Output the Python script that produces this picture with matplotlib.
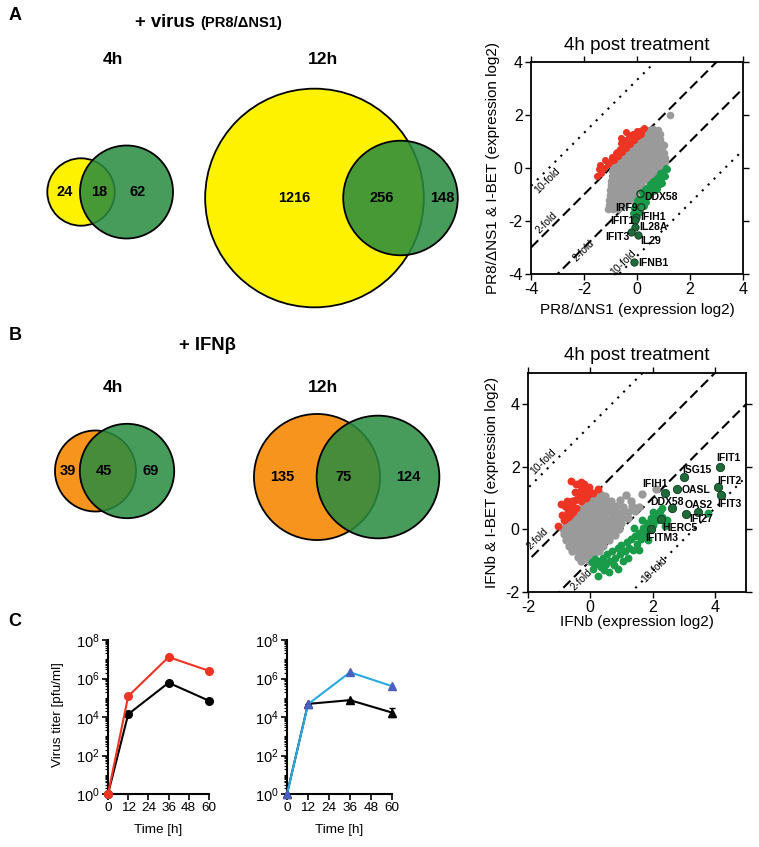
import numpy as np
import matplotlib
matplotlib.use('Agg')
import matplotlib.pyplot as plt
from matplotlib.patches import Circle
from matplotlib.ticker import FixedLocator, LogLocator, FuncFormatter, NullFormatter

plt.rcParams['font.family'] = ['Liberation Sans', 'DejaVu Sans']
plt.rcParams['axes.unicode_minus'] = False
plt.rcParams['mathtext.fontset'] = 'custom'
plt.rcParams['mathtext.rm'] = 'Liberation Sans'
plt.rcParams['mathtext.it'] = 'Liberation Sans:italic'
plt.rcParams['mathtext.bf'] = 'Liberation Sans:bold'

# ---------------- data ----------------
venn_a4 = [24, 18, 62]
venn_a12 = [1216, 256, 148]
venn_b4 = [39, 45, 69]
venn_b12 = [135, 75, 124]

# scatter 1 : PR8/dNS1 vs PR8/dNS1 & I-BET
gray1 = [
    (0.45, 1.45), (0.62, 1.47), (0.80, 1.43), (1.25, 2.00),
    (0.30, 1.28), (0.48, 1.30), (0.66, 1.26), (0.85, 1.30),
    (0.13, 1.10), (0.30, 1.12), (0.50, 1.08), (0.68, 1.11), (0.88, 1.10),
    (-0.05, 0.92), (0.13, 0.94), (0.32, 0.90), (0.52, 0.93), (0.70, 0.91), (0.90, 0.94), (1.02, 0.88),
    (-0.22, 0.75), (-0.03, 0.73), (0.16, 0.76), (0.35, 0.74), (0.55, 0.77), (0.74, 0.73), (0.93, 0.76),
    (-0.38, 0.58), (-0.20, 0.60), (0.00, 0.57), (0.20, 0.59), (0.40, 0.56), (0.60, 0.60), (0.80, 0.58), (1.00, 0.57),
    (-0.55, 0.40), (-0.36, 0.42), (-0.16, 0.39), (0.04, 0.41), (0.24, 0.38), (0.44, 0.42), (0.64, 0.40), (0.84, 0.41), (1.04, 0.39),
    (-0.73, 0.22), (-0.53, 0.24), (-0.33, 0.21), (-0.13, 0.23), (0.07, 0.20), (0.27, 0.24), (0.47, 0.22), (0.67, 0.20), (0.87, 0.23), (1.05, 0.21),
    (-0.90, 0.05), (-0.70, 0.07), (-0.50, 0.04), (-0.30, 0.06), (-0.10, 0.03), (0.10, 0.07), (0.30, 0.05), (0.50, 0.04), (0.70, 0.06), (0.90, 0.03),
    (-0.93, -0.12), (-0.73, -0.10), (-0.53, -0.13), (-0.33, -0.11), (-0.13, -0.12), (0.07, -0.10), (0.27, -0.13), (0.47, -0.11), (0.70, -0.12),
    (-0.95, -0.30), (-0.75, -0.28), (-0.55, -0.31), (-0.35, -0.29), (-0.15, -0.30), (0.05, -0.32), (0.25, -0.28), (0.48, -0.30), (0.66, -0.31),
    (-0.98, -0.48), (-0.78, -0.46), (-0.58, -0.49), (-0.38, -0.47), (-0.18, -0.48), (0.02, -0.50), (0.24, -0.47), (0.44, -0.49),
    (-1.00, -0.66), (-0.80, -0.64), (-0.60, -0.67), (-0.40, -0.65), (-0.20, -0.66), (0.02, -0.68), (0.24, -0.70),
    (-1.02, -0.84), (-0.82, -0.82), (-0.62, -0.85), (-0.42, -0.83), (-0.22, -0.84), (-0.02, -0.86),
    (-1.03, -1.02), (-0.83, -1.00), (-0.63, -1.03), (-0.43, -1.01), (-0.23, -1.02), (-0.06, -1.04),
    (-1.05, -1.20), (-0.85, -1.18), (-0.65, -1.21), (-0.45, -1.19), (-0.27, -1.22),
    (-1.05, -1.38), (-0.85, -1.36), (-0.62, -1.39), (-0.45, -1.40),
    (-1.08, -1.55), (-0.90, -1.56), (-0.70, -1.53),
]
red1 = [
    (-1.50, -0.30), (-1.45, -0.05), (-1.35, -0.20), (-1.25, 0.00), (-1.40, 0.10),
    (-1.10, 0.15), (-1.20, 0.30), (-1.00, 0.25), (-0.95, 0.40), (-0.85, 0.30),
    (-0.80, 0.55), (-0.70, 0.45), (-0.75, 0.60), (-0.65, 0.70), (-0.55, 0.60),
    (-0.50, 0.80), (-0.40, 0.75), (-0.60, 0.95), (-0.45, 1.05), (-0.35, 0.95),
    (-0.25, 0.90), (-0.20, 1.10), (-0.10, 1.05), (-0.30, 1.25), (-0.15, 1.30),
    (-0.05, 1.25), (0.05, 1.20), (0.00, 1.40), (0.10, 1.40), (0.20, 1.45),
    (0.25, 1.50), (-0.60, 1.15), (-0.40, 1.35), (0.15, 1.30),
]
green1 = [
    (1.10, 0.00), (1.15, -0.05), (1.00, -0.10), (0.95, -0.25), (0.85, -0.20),
    (0.90, -0.45), (0.80, -0.35), (0.75, -0.55), (0.70, -0.40), (0.65, -0.65),
    (0.60, -0.50), (0.55, -0.75), (0.50, -0.60), (0.45, -0.85), (0.40, -0.70),
    (0.35, -0.95), (0.30, -0.80), (0.25, -1.05), (0.20, -0.90), (0.15, -1.15),
    (0.10, -1.30), (0.00, -1.20), (-0.05, -1.35), (0.05, -1.50), (0.30, -1.20),
    (0.40, -1.05), (0.50, -0.95), (0.60, -0.85), (0.75, -0.80), (0.85, -0.60),
    (-0.10, -1.50), (-0.15, -1.70), (0.10, -1.65), (0.25, -1.45), (0.20, -1.30),
    (0.95, -0.55), (1.05, -0.30), (0.35, -1.30), (0.00, -1.75),
]
genes1 = ['IFIH1', 'IFIT1', 'IL28A', 'IFIT3', 'IL29', 'IFNB1']
genes1_x = [-0.02, -0.08, -0.09, -0.24, 0.05, -0.13]
genes1_y = [-1.85, -1.95, -2.23, -2.40, -2.52, -3.55]
open1 = ['DDX58', 'IRF9']
open1_x = [0.13, 0.16]
open1_y = [-0.98, -1.48]

# scatter 2 : IFNb vs IFNb & I-BET
gray2 = [
    (0.12, 1.10), (0.30, 1.12), (0.48, 1.08), (1.15, 1.10), (1.65, 1.12), (2.10, 1.30),
    (-0.06, 0.92), (0.12, 0.94), (0.30, 0.90), (0.48, 0.93), (0.66, 0.91), (0.95, 0.94), (1.30, 0.90),
    (-0.24, 0.74), (-0.06, 0.76), (0.12, 0.73), (0.30, 0.75), (0.48, 0.72), (0.66, 0.76), (0.84, 0.74), (1.05, 0.73), (1.35, 0.76), (1.55, 0.72),
    (-0.42, 0.56), (-0.24, 0.58), (-0.06, 0.55), (0.12, 0.57), (0.30, 0.54), (0.48, 0.58), (0.66, 0.56), (0.84, 0.55), (1.02, 0.57), (1.22, 0.55), (1.45, 0.58),
    (-0.60, 0.38), (-0.42, 0.40), (-0.24, 0.37), (-0.06, 0.39), (0.12, 0.36), (0.30, 0.40), (0.48, 0.38), (0.66, 0.37), (0.84, 0.39), (1.02, 0.36), (1.20, 0.38),
    (-0.78, 0.20), (-0.60, 0.22), (-0.42, 0.19), (-0.24, 0.21), (-0.06, 0.18), (0.12, 0.22), (0.30, 0.20), (0.48, 0.19), (0.66, 0.21), (0.84, 0.18), (1.00, 0.20),
    (-0.88, 0.02), (-0.70, 0.04), (-0.52, 0.01), (-0.34, 0.03), (-0.16, 0.00), (0.02, 0.04), (0.20, 0.02), (0.38, 0.01), (0.56, 0.03), (0.74, 0.00), (0.92, 0.02),
    (-0.85, -0.16), (-0.67, -0.14), (-0.49, -0.17), (-0.31, -0.15), (-0.13, -0.18), (0.05, -0.14), (0.23, -0.16), (0.41, -0.17), (0.60, -0.15), (0.78, -0.17),
    (-0.78, -0.34), (-0.60, -0.32), (-0.42, -0.35), (-0.24, -0.33), (-0.06, -0.36), (0.12, -0.32), (0.30, -0.34), (0.48, -0.35), (0.60, -0.33),
    (-0.68, -0.52), (-0.50, -0.50), (-0.32, -0.53), (-0.14, -0.51), (0.04, -0.54), (0.22, -0.50), (0.42, -0.53),
    (-0.58, -0.70), (-0.40, -0.68), (-0.22, -0.71), (-0.04, -0.69), (0.14, -0.72), (0.28, -0.70),
    (-0.40, -0.88), (-0.22, -0.86), (-0.04, -0.89), (0.10, -0.87),
    (-0.30, -1.00), (-0.05, -1.02),
]
red2 = [
    (-1.05, 0.10), (-0.95, 0.80), (-0.80, 0.75), (-0.70, 0.60), (-0.60, 0.90),
    (-0.50, 1.20), (-0.45, 1.45), (-0.30, 1.40), (-0.20, 1.30), (-0.10, 1.20),
    (0.00, 1.15), (-0.40, 1.00), (-0.30, 0.90), (-0.55, 0.55), (-0.70, 0.40),
    (-0.85, 0.30), (-0.15, 1.00), (-0.25, 1.10), (-0.60, 0.75), (-0.45, 0.70),
    (-0.90, 0.45), (0.10, 1.15), (-0.65, 0.45), (-0.75, 0.90), (-0.20, 1.45),
    (-0.61, 1.56), (-0.29, 1.52), (0.24, 1.29), (-0.82, 0.32), (-0.35, 1.20),
    (-0.50, 0.95), (-0.05, 1.35),
]
green2 = [
    (0.05, -1.05), (0.10, -1.25), (0.20, -1.10), (0.25, -1.50), (0.30, -1.00),
    (0.35, -1.20), (0.42, -0.90), (0.50, -1.10), (0.55, -0.80), (0.62, -1.00),
    (0.70, -0.70), (0.75, -1.15), (0.80, -0.90), (0.88, -0.60), (0.95, -0.80),
    (1.00, -0.50), (1.05, -1.00), (1.12, -0.70), (1.18, -0.40), (1.25, -0.60),
    (1.32, -0.30), (1.38, -0.65), (1.45, -0.20), (1.50, -0.45), (1.55, -0.10),
    (1.62, -0.30), (1.70, 0.05), (1.75, -0.15), (1.82, 0.20), (1.90, 0.00),
    (1.95, 0.35), (2.02, 0.15), (2.10, 0.50), (2.15, 0.30), (2.25, 0.60),
    (2.30, 0.40), (2.00, 0.55), (1.65, 0.30), (1.85, -0.35), (0.90, -1.25),
    (0.60, -1.35), (2.45, 0.30), (3.77, 0.52), (2.29, 0.70), (1.40, 0.05),
    (0.15, -0.95), (0.45, -1.30), (1.20, -0.90), (1.55, -0.65), (2.40, 0.10),
]
genes2 = ['IFIT1', 'ISG15', 'IFIT2', 'OASL', 'IFIH1', 'IFIT3', 'DDX58', 'OAS2', 'IFI27', 'HERC5', 'IFITM3']
genes2_x = [4.15, 3.01, 4.10, 2.80, 2.39, 4.21, 2.63, 3.46, 3.06, 2.28, 1.96]
genes2_y = [2.01, 1.67, 1.35, 1.29, 1.18, 1.10, 0.67, 0.56, 0.48, 0.32, 0.02]

# panel C : virus titer
time_h = [0, 12, 36, 60]
titer1_ctrl = [1, 1.4e4, 6.0e5, 7.0e4]
titer1_ctrl_err = [[0, 4e3, 0, 0], [0, 3e3, 0, 0]]
titer1_red = [1, 1.2e5, 1.3e7, 2.5e6]
titer2_ctrl = [1, 4.8e4, 7.5e4, 1.7e4]
titer2_ctrl_err = [[0, 0, 0, 7e3], [0, 0, 0, 1.1e4]]
titer2_blue = [1, 4.6e4, 2.1e6, 4.0e5]

# ---------------- figure ----------------
W, H = 759, 847
fig = plt.figure(figsize=(W / 100, H / 100), dpi=100)

def fax(l, t, r, b):
    return fig.add_axes([l / W, 1 - b / H, (r - l) / W, (b - t) / H])

# full-figure pixel axes for Venn diagrams and panel texts
ax0 = fig.add_axes([0, 0, 1, 1])
ax0.set_xlim(0, W)
ax0.set_ylim(H, 0)
ax0.axis('off')

YELLOW = '#FFF200'
ORANGE = '#F7941D'
GREEN_V = (41 / 255, 139 / 255, 64 / 255, 0.86)

venn_layout = [
    (venn_a4, YELLOW, 81, 192, 45.5, 5.2, (65, 99, 138)),
    (venn_a12, YELLOW, 314.5, 198, 86, 2.85, (294, 382, 442)),
    (venn_b4, ORANGE, 95.5, 471, 31.5, 4.42, (68, 104, 151)),
    (venn_b12, ORANGE, 317, 477, 61, 4.35, (282, 344, 408)),
]
for counts, col, cx, cy, d, k, lx in venn_layout:
    r1 = k * np.sqrt(counts[0] + counts[1])
    r2 = k * np.sqrt(counts[1] + counts[2])
    ax0.add_patch(Circle((cx, cy), r1, facecolor=col, edgecolor='black', lw=1.3, zorder=1))
    ax0.add_patch(Circle((cx + d, cy), r2, facecolor=GREEN_V, edgecolor='black', lw=1.3, zorder=2))
    for n, x in zip(counts, lx):
        ax0.text(x, cy, str(n), ha='center', va='center', fontsize=10.5,
                 fontweight='bold', zorder=3)

for letter, y in [('A', 16), ('B', 336), ('C', 621)]:
    ax0.text(15, y, letter, ha='center', va='center', fontsize=13, fontweight='bold')
ax0.text(135, 27, '+ virus', ha='left', va='baseline', fontsize=13.3, fontweight='bold')
ax0.text(200, 27, '(PR8/ΔNS1)', ha='left', va='baseline', fontsize=10.6, fontweight='bold')
ax0.text(207, 345, '+ IFNβ', ha='center', va='center', fontsize=13.3, fontweight='bold')
for y in (60, 387):
    ax0.text(113, y, '4h', ha='center', va='center', fontsize=12.5, fontweight='bold')
    ax0.text(323, y, '12h', ha='center', va='center', fontsize=12.5, fontweight='bold')

# ---------------- scatter panels ----------------
GRAY = '#9a9a9a'
RED = '#EE3524'
GREEN = '#1A9B4A'
DKGREEN = '#1E6B3A'
fold_offsets = [np.log2(10), 1, -1, -np.log2(10)]
fold_styles = [(0, (1, 3)), (0, (4.8, 2.4)), (0, (4.8, 2.4)), (0, (1, 3))]


def style_scatter(ax, lim, ticks):
    ax.set_xlim(*lim)
    ax.set_ylim(*lim)
    ax.set_xticks(ticks)
    ax.set_yticks(ticks)
    ax.tick_params(direction='out', length=4, width=1, top=True, right=True,
                   labelsize=11.5, pad=2)
    for s in ax.spines.values():
        s.set_linewidth(1.3)
    xs = np.array([lim[0] - 6, lim[1] + 6])
    for off, ls in zip(fold_offsets, fold_styles):
        ax.plot(xs, xs + off, color='black', lw=1.5, linestyle=ls, zorder=1)


def pts(p):
    return [a for a, b in p], [b for a, b in p]


# scatter 1
ax1 = fax(531, 62, 743, 274)
style_scatter(ax1, (-4, 4), [-4, -2, 0, 2, 4])
x, y = pts(gray1)
ax1.scatter(x, y, s=30, color=GRAY, lw=0, zorder=2)
x, y = pts(red1)
ax1.scatter(x, y, s=26, color=RED, lw=0, zorder=3)
x, y = pts(green1)
ax1.scatter(x, y, s=26, color=GREEN, lw=0, zorder=3)
ax1.scatter(open1_x, open1_y, s=26, facecolor='none', edgecolor='#1b3f25', lw=1, zorder=4)
ax1.scatter(genes1_x, genes1_y, s=28, color=DKGREEN, edgecolor='#123a20', lw=0.6, zorder=4)
labels1 = {'DDX58': (0.92, -1.11), 'IRF9': (-0.41, -1.52), 'IFIH1': (0.60, -1.86),
           'IFIT1': (-0.56, -2.01), 'IL28A': (0.63, -2.24), 'IFIT3': (-0.75, -2.59),
           'IL29': (0.50, -2.77), 'IFNB1': (0.60, -3.60)}
for name, (tx, ty) in labels1.items():
    ax1.text(tx, ty, name, ha='center', va='center', fontsize=7.5, fontweight='bold', zorder=5)
for t, fx, fy in [('10-fold', -3.39, -0.48), ('2-fold', -3.42, -2.05),
                  ('2-fold', -2.0, -3.12), ('10-fold', -0.5, -3.56)]:
    ax1.text(fx, fy, t, rotation=45, ha='center', va='center', fontsize=7.5,
             rotation_mode='anchor', zorder=5)
ax1.text(0.5, 1.08, '4h post treatment', transform=ax1.transAxes, ha='center',
         va='center', fontsize=13.5)
ax1.text(0.5, -0.17, 'PR8/ΔNS1 (expression log2)', transform=ax1.transAxes,
         ha='center', va='center', fontsize=11)
ax1.text(-0.18, 0.5, 'PR8/ΔNS1 & I-BET (expression log2)', transform=ax1.transAxes,
         ha='center', va='center', fontsize=11, rotation=90)

# scatter 2
ax2 = fax(528, 373, 746, 592)
style_scatter(ax2, (-2, 5), [-2, 0, 2, 4])
x, y = pts(gray2)
ax2.scatter(x, y, s=36, color=GRAY, lw=0, zorder=2)
x, y = pts(red2)
ax2.scatter(x, y, s=32, color=RED, lw=0, zorder=3)
x, y = pts(green2)
ax2.scatter(x, y, s=32, color=GREEN, lw=0, zorder=3)
ax2.scatter(genes2_x, genes2_y, s=36, color=DKGREEN, edgecolor='#123a20', lw=0.6, zorder=4)
labels2 = {'IFIT1': (4.42, 2.28), 'ISG15': (3.41, 1.90), 'IFIT2': (4.47, 1.56),
           'OASL': (3.38, 1.27), 'IFIH1': (2.07, 1.45), 'IFIT3': (4.47, 0.81),
           'DDX58': (2.45, 0.87), 'OAS2': (3.49, 0.77), 'IFI27': (3.57, 0.32),
           'HERC5': (2.87, 0.05), 'IFITM3': (2.28, -0.27)}
for name, (tx, ty) in labels2.items():
    ax2.text(tx, ty, name, ha='center', va='center', fontsize=7.5, fontweight='bold', zorder=5)
for t, fx, fy in [('10-fold', -1.52, 2.16), ('2-fold', -1.68, -0.30),
                  ('2-fold', -0.29, -1.60), ('10-fold', 2.07, -1.28)]:
    ax2.text(fx, fy, t, rotation=45, ha='center', va='center', fontsize=7.5,
             rotation_mode='anchor', zorder=5)
ax2.text(0.5, 1.082, '4h post treatment', transform=ax2.transAxes, ha='center',
         va='center', fontsize=13.5)
ax2.text(0.5, -0.137, 'IFNb (expression log2)', transform=ax2.transAxes,
         ha='center', va='center', fontsize=11)
ax2.text(-0.165, 0.5, 'IFNb & I-BET (expression log2)', transform=ax2.transAxes,
         ha='center', va='center', fontsize=11, rotation=90)

# ---------------- panel C ----------------
def style_titer(ax):
    ax.set_yscale('log')
    ax.set_ylim(1, 1e8)
    ax.set_xlim(0, 60)
    ax.set_xticks([0, 12, 24, 36, 48, 60])
    ax.yaxis.set_major_locator(FixedLocator([1, 1e2, 1e4, 1e6, 1e8]))
    ax.yaxis.set_minor_locator(LogLocator(base=10, subs=np.arange(1, 10), numticks=100))
    ax.yaxis.set_minor_formatter(NullFormatter())
    ax.yaxis.set_major_formatter(FuncFormatter(lambda v, p: r'$10^{%d}$' % round(np.log10(v))))
    ax.spines['top'].set_visible(False)
    ax.spines['right'].set_visible(False)
    for s in ('left', 'bottom'):
        ax.spines[s].set_linewidth(1.5)
    ax.tick_params(axis='both', which='major', direction='out', length=4, width=1.2, pad=2)
    ax.tick_params(axis='x', labelsize=9.7)
    ax.tick_params(axis='y', labelsize=10.5)
    ax.tick_params(axis='y', which='minor', direction='out', length=2, width=0.8)
    ax.text(0.5, -0.235, 'Time [h]', transform=ax.transAxes, ha='center', va='center',
            fontsize=9.7)


axc1 = fax(108, 640, 209, 794)
style_titer(axc1)
axc1.errorbar(time_h, titer1_ctrl, yerr=titer1_ctrl_err, color='black', marker='o', ms=5.5,
              lw=1.5, capsize=2.5, elinewidth=1.2, clip_on=False, zorder=3)
axc1.plot(time_h, titer1_red, color=RED, marker='o', ms=5.5, lw=1.5, clip_on=False, zorder=4)
axc1.text(-0.495, 0.513, 'Virus titer [pfu/ml]', transform=axc1.transAxes, ha='center',
          va='center', rotation=90, fontsize=9.7)

axc2 = fax(287, 640, 392, 794)
style_titer(axc2)
axc2.errorbar(time_h, titer2_ctrl, yerr=titer2_ctrl_err, color='black', marker='^', ms=5.5,
              lw=1.5, capsize=2.5, elinewidth=1.2, clip_on=False, zorder=3)
axc2.plot(time_h, titer2_blue, color='#2AA9E0', marker='^', ms=6, mfc='#4B5FBF',
          mec='#4B5FBF', lw=1.5, clip_on=False, zorder=4)

fig.savefig('out.png', dpi=100)
